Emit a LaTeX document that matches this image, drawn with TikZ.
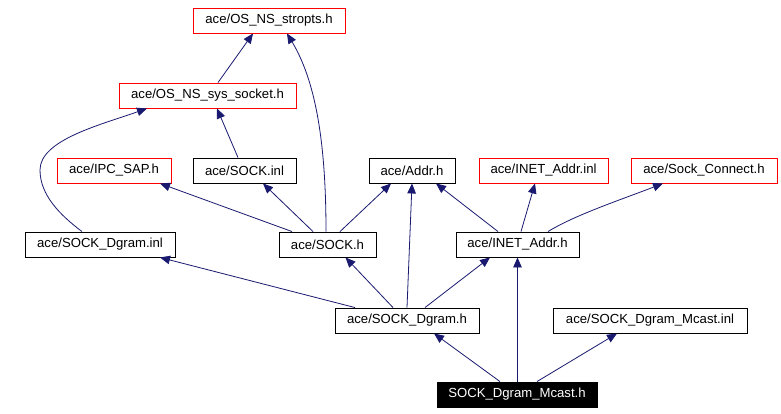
\documentclass[tikz,border=0pt]{standalone}
\usepackage{fontspec}
\setmainfont{Liberation Sans}
\usetikzlibrary{arrows.meta}
\definecolor{edgeblue}{HTML}{191970}
\begin{document}
\begin{tikzpicture}[x=1bp,y=-1bp,
  box/.style={draw=black, line width=0.9bp, minimum height=25bp, inner sep=0pt, fill=white,
    font=\fontsize{13.2}{15}\selectfont},
  redbox/.style={box, draw=red},
  dep/.style={draw=edgeblue, line width=0.8bp, -{Triangle[length=10bp,width=8.5bp]}, fill=none},
]
\path[use as bounding box, fill=white] (0,0) rectangle (781,413);

\node[redbox, minimum width=152bp] (stropts) at (269,20.5) {ace/OS\_NS\_stropts.h};
\node[redbox, minimum width=177bp] (syssock) at (207.5,95.5) {ace/OS\_NS\_sys\_socket.h};
\node[redbox, minimum width=114bp] (ipcsap) at (114,170.5) {ace/IPC\_SAP.h};
\node[box, minimum width=103bp] (sockinl) at (244.5,170.5) {ace/SOCK.inl};
\node[box, minimum width=86bp] (addr) at (412,170.5) {ace/Addr.h};
\node[redbox, minimum width=129bp] (inetinl) at (543.5,170.5) {ace/INET\_Addr.inl};
\node[redbox, minimum width=146bp] (sockconn) at (704,170.5) {ace/Sock\_Connect.h};
\node[box, minimum width=150bp] (sdginl) at (100,244.5) {ace/SOCK\_Dgram.inl};
\node[box, minimum width=97bp] (sockh) at (327.5,244.5) {ace/SOCK.h};
\node[box, minimum width=123bp] (ineth) at (517.5,244.5) {ace/INET\_Addr.h};
\node[box, minimum width=144bp] (sdgh) at (407,320.5) {ace/SOCK\_Dgram.h};
\node[box, minimum width=194bp] (sdgminl) at (650,320.5) {ace/SOCK\_Dgram\_Mcast.inl};
\node[box, fill=black, text=white, minimum width=160bp] (mcast) at (517,394.5) {SOCK\_Dgram\_Mcast.h};

% edges (arrow at the included file)
\draw[dep] ([xshift=10.5bp]syssock.north) -- ([xshift=-16bp]stropts.south);
\draw[dep] ([xshift=-1.5bp]sockh.north) .. controls (326,140) and (315,80) .. ([xshift=18bp]stropts.south);
\draw[dep] ([xshift=-18bp]sdginl.north) .. controls (60,215) and (40,195) .. (40,170)
   .. controls (40,140) and (100,125) .. ([xshift=-60.5bp]syssock.south);
\draw[dep] ([xshift=-6.5bp]sockinl.north) -- ([xshift=9.5bp]syssock.south);
\draw[dep] ([xshift=-35.5bp]sockh.north) -- ([xshift=46bp]ipcsap.south);
\draw[dep] ([xshift=-14.5bp]sockh.north) -- ([xshift=18.5bp]sockinl.south);
\draw[dep] ([xshift=12.5bp]sockh.north) -- ([xshift=-21bp]addr.south);
\draw[dep] ([xshift=-19.5bp]ineth.north) -- ([xshift=24bp]addr.south);
\draw[dep] ([xshift=3.5bp]ineth.north) -- ([xshift=-8.5bp]inetinl.south);
\draw[dep] ([xshift=30.5bp]ineth.north) .. controls (575,215) and (620,200) .. ([xshift=-41bp]sockconn.south);
\draw[dep] ([xshift=-52bp]sdgh.north) -- ([xshift=60bp]sdginl.south);
\draw[dep] ([xshift=-14bp]sdgh.north) -- ([xshift=18bp]sockh.south);
\draw[dep] (sdgh.north) -- (addr.south);
\draw[dep] ([xshift=18bp]sdgh.north) -- ([xshift=-27.5bp]ineth.south);
\draw[dep] ([xshift=-17bp]mcast.north) -- ([xshift=27bp]sdgh.south);
\draw[dep] ([xshift=0.5bp]mcast.north) -- (ineth.south);
\draw[dep] ([xshift=20bp]mcast.north) -- ([xshift=-33bp]sdgminl.south);
\end{tikzpicture}
\end{document}
